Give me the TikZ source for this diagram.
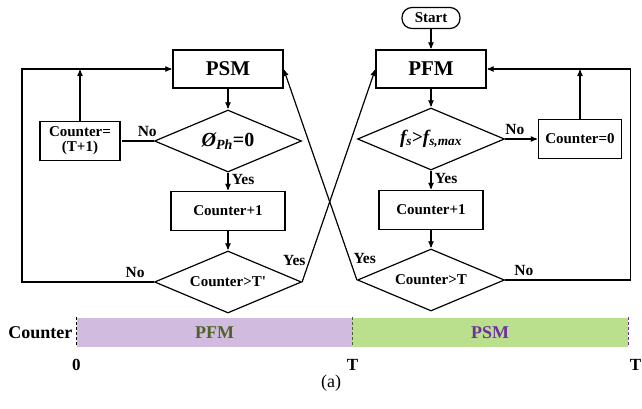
\documentclass[tikz,border=0pt]{standalone}
\usepackage{fontspec}
\setmainfont{Liberation Serif}
\usetikzlibrary{arrows,shapes.geometric}

\definecolor{pfmbg}{RGB}{209,187,223}
\definecolor{psmbg}{RGB}{186,224,141}
\definecolor{pfmtext}{RGB}{79,98,40}
\definecolor{psmtext}{RGB}{112,48,160}

\newcommand{\fs}[1]{\fontsize{#1}{#1}\selectfont}

\begin{document}
\begin{tikzpicture}[>=stealth',shorten >=1pt,line width=1.2pt,
                x=1pt,y=1pt,
                every node/.style={font=\bfseries\fs{15}},
                mode box/.style={rectangle,draw,minimum width=110pt,minimum height=38pt,font=\bfseries\fs{21}},
                action box/.style={rectangle,draw,minimum height=39pt,inner sep=2pt,align=center},
                decision/.style={diamond,draw,aspect=2.37,minimum width=147pt,minimum height=62pt,inner sep=0pt},
                answer/.style={font=\bfseries\fs{15.5}},
                bar/.style={rectangle,minimum height=29pt,inner sep=0pt,font=\bfseries\fs{18}},
                tick/.style={densely dashed,line width=1.6pt}]
                \useasboundingbox (0,0) rectangle (642,-408);

                % left loop
                \node[mode box] (psm) at (228,-69) {PSM};
                \node[decision] (d1) [below of=psm,node distance=72pt] {\fs{20}\textit{Ø\textsubscript{Ph}}=0};
                \node[action box,minimum width=114pt] (inc1) [below of=d1,node distance=70pt] {Counter+1};
                \node[decision] (d2) [below of=inc1,node distance=71pt] {Counter>T\textquotesingle};
                \node[action box,minimum width=80pt] (cnt1) [left of=d1,node distance=148pt] {Counter=\\(T+1)};

                % right loop
                \node[mode box] (pfm) [right of=psm,node distance=203pt] {PFM};
                \node[draw,rounded corners=10pt,minimum width=58pt,minimum height=21pt,inner sep=1pt] (start) [above of=pfm,node distance=51pt] {Start};
                \node[decision] (d3) [below of=pfm,node distance=70pt] {\fs{19}\textit{f\textsubscript{s}}>\textit{f\textsubscript{s,max}}};
                \node[action box,minimum width=104pt] (inc2) [below of=d3,node distance=71pt] {Counter+1};
                \node[decision] (d4) [below of=inc2,node distance=70pt] {Counter>T};
                \node[action box,minimum width=83pt] (cnt0) [right of=d3,node distance=149pt] {Counter=0};

                \path[every node/.style={answer}]
                (start) edge[->] (pfm)
                (psm) edge[->] (d1)
                (d1) edge[->] node [right,pos=0.4] {Yes} (inc1)
                (inc1) edge[->] (d2)
                (d1.west) edge node [above,pos=0.2] {No} (cnt1.east)
                (pfm) edge[->] (d3)
                (d3) edge[->] node [right,pos=0.4] {Yes} (inc2)
                (inc2) edge[->] (d4)
                (d3.east) edge[->] node [above,pos=0.3] {No} (cnt0.west)
                (d2.east) edge[->] node [left,pos=0.1] {Yes} (pfm.west)
                (d4.west) edge[->] node [right,pos=0.1] {Yes} (psm.east)
                ;

                \draw[->] (cnt1.north) -- (cnt1.north |- psm.west);
                \draw[->] (cnt0.north) -- (cnt0.north |- pfm.east);
                \draw[->] (d2.west) -- node [above left,answer,pos=0.04] {No} ++(-132,0) |- (psm.west);
                \draw[->] (d4.east) -- node [above,answer,pos=0.15] {No} ++(125,0) |- (pfm.east);

                % counter bar
                \node[bar,fill=pfmbg,minimum width=275pt,text=pfmtext] (pfmbar) at (214.5,-332.5) {PFM};
                \node[bar,fill=psmbg,minimum width=276pt,text=psmtext] (psmbar) [right of=pfmbar,node distance=275.5pt] {PSM};
                \draw[tick,black] (pfmbar.north west) -- (pfmbar.south west);
                \draw[tick,pfmtext] (pfmbar.north east) -- (pfmbar.south east);
                \draw[tick,psmtext] (psmbar.north east) -- (psmbar.south east);
                \node[font=\bfseries\fs{18},left] (lbl) at (pfmbar.west) {Counter};
                \node[font=\bfseries\fs{17}] (t0) at ([yshift=-17pt]pfmbar.south west) {0};
                \node[font=\bfseries\fs{17}] (t1) at ([yshift=-17pt]pfmbar.south east) {T};
                \node[font=\bfseries\fs{17}] (t2) at ([xshift=7pt,yshift=-17pt]psmbar.south east) {T};
                \node[font=\fs{18}] (cap) at (331,-383) {(a)};
\end{tikzpicture}
\end{document}
